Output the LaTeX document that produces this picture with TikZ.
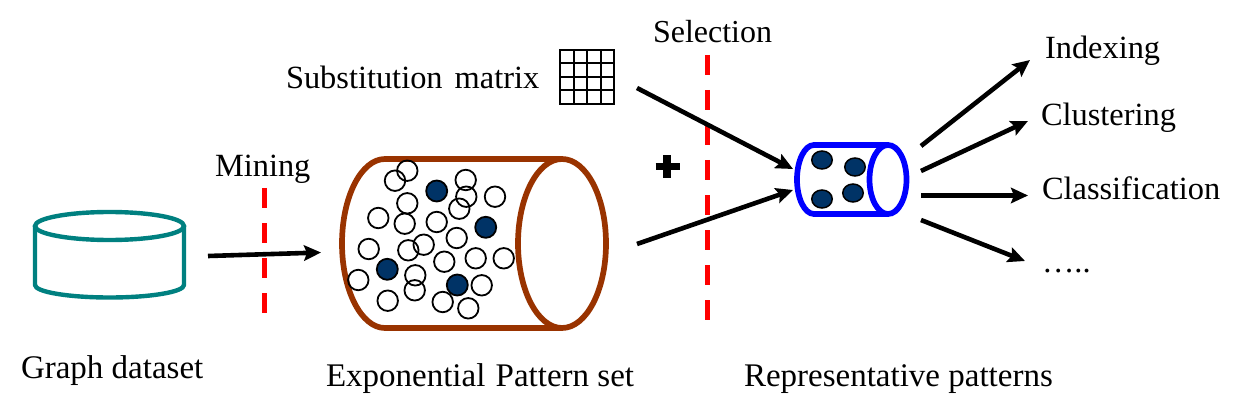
\documentclass[tikz,border=0pt]{standalone}
\usepackage{fontspec}
\setmainfont{Liberation Serif}
\usetikzlibrary{arrows.meta,shapes.geometric}
\definecolor{tealdb}{HTML}{008080}
\definecolor{brownset}{HTML}{993300}
\definecolor{navydot}{HTML}{003366}
\tikzset{
  lbl/.style={anchor=base west,inner sep=0pt,outer sep=0pt,font=\fontsize{32.4}{36}\selectfont},
  lblwide/.style={lbl,font=\fontsize{33}{36}\selectfont},
  flow/.style={line width=4.6pt,-{Stealth[length=17pt,width=15.5pt,inset=3pt]}},
  cut/.style={red,line width=5pt,dash pattern=on 20pt off 15pt},
  wall/.style={line width=5.7pt},
  openpat/.style={circle,draw=black,fill=none,line width=1.8pt,minimum size=20.5pt,inner sep=0pt},
  fullpat/.style={circle,draw=black,fill=navydot,line width=1.8pt,minimum size=21pt,inner sep=0pt},
  smallpat/.style={ellipse,draw=black,fill=navydot,line width=1.5pt,minimum width=20.5pt,minimum height=18pt,inner sep=0pt},
  gridline/.style={line width=2pt},
}
\begin{document}
\begin{tikzpicture}[x=1pt,y=-1pt]
\useasboundingbox (0,0) rectangle (1241,414);

% Dataset drum
\draw[tealdb,line width=4.4pt,line join=round]
  (35,226) -- (35,285) arc[start angle=180,end angle=0,x radius=74.5,y radius=12.5] -- (184,226);
\draw[tealdb,line width=4.4pt] (109.5,226) ellipse[x radius=74.5,y radius=14];

% Cuts between the stages
\coordinate (cutAtop) at (264,188);
\coordinate (cutAbot) at (264,313);
\coordinate (cutBtop) at (707,55);
\coordinate (cutBbot) at (707,320);
\draw[cut] (cutAtop) -- (cutAbot);
\draw[cut] (cutBtop) -- (cutBbot);

% Large pattern barrel
\draw[brownset,wall] (562,159) -- (385,159)
  arc[start angle=270,end angle=90,x radius=43,y radius=84.5] -- (562,328);
\draw[brownset,wall] (562,243.5) ellipse[x radius=44,y radius=84.5];

% Patterns inside the barrel
\foreach \n/\px/\py in {a/407.3/170.7,b/395/180.7,c/465.7/180,d/466.3/196.7,e/495/196.7,f/407.3/203.3,
  g/459.3/208.7,h/378.3/218,i/404.7/223.7,j/436.7/222,k/456.7/238,l/423.7/244.7,m/368.7/249,
  n/408.3/250.3,o/475.7/258.3,p/503.7/258.3,q/444.3/261.7,r/415.3/275.3,s/358.3/280,t/481.7/285.3,
  u/414.7/290.3,v/387.7/300.7,w/442.7/302,x/468.3/308.3}
  \node[openpat] (pat\n) at (\px,\py) {};
\foreach \n/\px/\py in {a/436.7/191,b/485.7/227.3,c/387.3/269.3,d/457.3/285}
  \node[fullpat] (key\n) at (\px,\py) {};

% Substitution grid
\draw[gridline] (560,50) rectangle (614,104);
\foreach \k in {1,2,3}{
  \draw[gridline] (560+13.5*\k,50) -- (560+13.5*\k,104);
  \draw[gridline] (560,50+13.5*\k) -- (614,50+13.5*\k);
}

% Plus sign
\draw[line width=8pt] (667,155.5) -- (667,178.5);
\draw[line width=7.5pt] (655.5,166.5) -- (679.5,166.5);

% Small barrel
\draw[blue,wall] (888,145) -- (814,145)
  arc[start angle=270,end angle=90,x radius=17,y radius=34.5] -- (888,214);
\draw[blue,wall] (888,179.5) ellipse[x radius=18.5,y radius=34.5];
\node[smallpat] (reprA) at (822,160) {};
\node[smallpat] (reprB) at (855,167) {};
\node[smallpat] (reprC) at (822,199) {};
\node[smallpat] (reprD) at (853,193) {};

% Flow arrows
\coordinate (mineS) at (208,256);
\coordinate (mineE) at (321,252.5);
\coordinate (subS) at (637,88);
\coordinate (subE) at (793,169);
\coordinate (setS) at (637,244);
\coordinate (setE) at (793,190);
\coordinate (outAS) at (921,146);
\coordinate (outAE) at (1030,60);
\coordinate (outBS) at (921,171);
\coordinate (outBE) at (1028,121);
\coordinate (outCS) at (921,195.5);
\coordinate (outCE) at (1028,195.5);
\coordinate (outDS) at (921,220);
\coordinate (outDE) at (1025,261);
\draw[flow] (mineS) -- (mineE);
\draw[flow] (subS) -- (subE);
\draw[flow] (setS) -- (setE);
\draw[flow] (outAS) -- (outAE);
\draw[flow] (outBS) -- (outBE);
\draw[flow] (outCS) -- (outCE);
\draw[flow] (outDS) -- (outDE);

% Labels
\node[lbl,font=\fontsize{32}{36}\selectfont] (tSel) at (653,43) {Selection};
\node[lbl] (tSub) at (286,89) {Substitution\hspace{4pt} matrix};
\node[lbl] (tMin) at (215,177) {Mining};
\node[lblwide] (tGra) at (21,378) {Graph dataset};
\node[lblwide] (tExp) at (326,386) {Exponential\hspace{2pt} Pattern set};
\node[lblwide] (tRep) at (744,386) {Representative patterns};
\node[lbl] (tInd) at (1045,58.5) {Indexing};
\node[lbl] (tClu) at (1041,126) {Clustering};
\node[lbl] (tCla) at (1042,199) {Classification};
\node[lbl] (tEtc) at (1042,272) {…..};
\end{tikzpicture}
\end{document}
